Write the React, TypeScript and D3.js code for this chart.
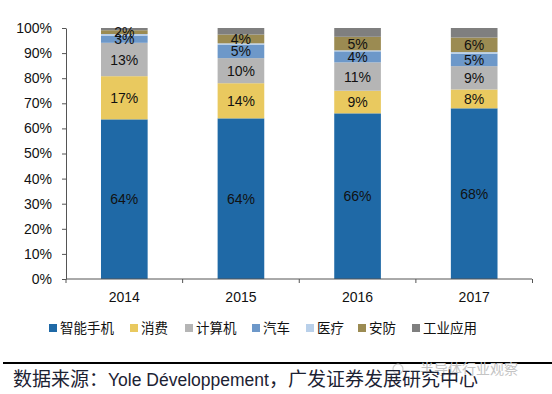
import React, { useEffect, useRef } from 'react';
import * as d3 from 'd3';

// years on the x axis
const years = ['2014', '2015', '2016', '2017'];

// series names (legend order, bottom to top in the stack)
const seriesNames = ['智能手机', '消费', '计算机', '汽车', '医疗', '安防', '工业应用'];

// share of each series per year, in %
const smartphone = [63.6, 64, 66, 68];
const consumer = [17.2, 14, 9, 7.5];
const computer = [13.3, 10, 11.3, 9.3];
const auto = [2.9, 5.4, 4.4, 5];
const medical = [0.6, 0.5, 0.4, 0.6];
const security = [1.5, 3.5, 5.4, 5.8];
const industrial = [0.9, 2.6, 3.5, 3.8];

// series that carry a value label on the bar
const labelled = ['智能手机', '消费', '计算机', '汽车', '安防'];

const yTicks = [0, 10, 20, 30, 40, 50, 60, 70, 80, 90, 100];

const colors = ['#1f69a6', '#e9c95f', '#b5b5b5', '#6d98c9', '#b9d0ea', '#9b8b52', '#7f7f7f'];

const App = () => {
  const ref = useRef<SVGSVGElement | null>(null);

  useEffect(() => {
    if (!ref.current) return;
    const svg = d3.select(ref.current);
    svg.selectAll('*').remove();

    const all = [smartphone, consumer, computer, auto, medical, security, industrial];
    const rows = years.map((y, i) => {
      const r: any = { year: y };
      seriesNames.forEach((s, j) => { r[s] = all[j][i]; });
      return r;
    });

    const stacked = d3.stack<any>().keys(seriesNames)(rows);

    const x = d3.scaleBand()
      .domain(years)
      .range([66, 532.5])
      .paddingInner(0.6)
      .paddingOuter(0.3);

    const y = d3.scaleLinear().domain([0, 100]).range([279, 28]);

    const font = 'Arial, "Liberation Sans", sans-serif';
    const cjk = '"Noto Sans CJK SC", sans-serif';

    // bars
    const layers = svg.append('g')
      .selectAll('g')
      .data(stacked)
      .enter().append('g')
      .attr('fill', (d, i) => colors[i]);

    layers.selectAll('rect')
      .data(d => d.map(p => ({ p, key: d.key })))
      .enter().append('rect')
      .attr('x', d => x(d.p.data.year) as number)
      .attr('y', d => y(d.p[1]))
      .attr('width', x.bandwidth())
      .attr('height', d => y(d.p[0]) - y(d.p[1]));

    // value labels
    stacked.filter(s => labelled.includes(s.key)).forEach(s => {
      svg.append('g')
        .selectAll('text')
        .data(s)
        .enter().append('text')
        .attr('x', d => (x(d.data.year) as number) + x.bandwidth() / 2)
        .attr('y', d => (y(d[0]) + y(d[1])) / 2)
        .attr('dy', '0.36em')
        .attr('text-anchor', 'middle')
        .attr('font-family', font)
        .attr('font-size', 14)
        .attr('fill', '#111')
        .text(d => `${Math.round(d[1] - d[0])}%`);
    });

    // y axis
    const yAxis = svg.append('g')
      .attr('transform', 'translate(66,0)')
      .call(d3.axisLeft(y).tickValues(yTicks).tickSize(4).tickSizeOuter(0).tickFormat(d => `${d}%`));
    yAxis.select('.domain').attr('stroke', '#555');
    yAxis.selectAll('.tick line').attr('stroke', '#555');
    yAxis.selectAll('.tick text')
      .attr('x', -14)
      .attr('font-family', font)
      .attr('font-size', 14)
      .attr('fill', '#111');

    // x axis
    const xAxis = svg.append('g')
      .attr('transform', 'translate(0,279)');
    xAxis.append('line')
      .attr('x1', 66).attr('x2', 532).attr('y1', 0).attr('y2', 0)
      .attr('stroke', '#555');
    const step = x.step();
    const edges = d3.range(years.length + 1).map(i => 66 + i * step);
    xAxis.selectAll('line.t')
      .data(edges)
      .enter().append('line')
      .attr('class', 't')
      .attr('x1', d => d).attr('x2', d => d)
      .attr('y1', 0).attr('y2', 4)
      .attr('stroke', '#555');
    xAxis.selectAll('text')
      .data(years)
      .enter().append('text')
      .attr('x', d => (x(d) as number) + x.bandwidth() / 2)
      .attr('y', 18)
      .attr('dy', '0.36em')
      .attr('text-anchor', 'middle')
      .attr('font-family', font)
      .attr('font-size', 14)
      .attr('fill', '#111')
      .text(d => d);

    // legend
    const legendX = [49, 130, 185, 252, 306, 358, 412];
    const legend = svg.append('g')
      .selectAll('g')
      .data(seriesNames)
      .enter().append('g')
      .attr('transform', (d, i) => `translate(${legendX[i]},328)`);
    legend.append('rect')
      .attr('x', 0).attr('y', -4)
      .attr('width', 8).attr('height', 8)
      .attr('fill', (d, i) => colors[i]);
    legend.append('text')
      .attr('x', 11)
      .attr('y', 0)
      .attr('dy', '0.36em')
      .attr('font-family', cjk)
      .attr('font-size', 13.5)
      .attr('fill', '#111')
      .text(d => d);

    // rule and source
    svg.append('line')
      .attr('x1', 3).attr('x2', 552)
      .attr('y1', 363).attr('y2', 363)
      .attr('stroke', '#000')
      .attr('stroke-width', 2);

    // watermark
    svg.append('circle')
      .attr('cx', 398).attr('cy', 369).attr('r', 5)
      .attr('fill', 'none')
      .attr('stroke', '#cfcfcf')
      .attr('stroke-width', 1.2);
    svg.append('text')
      .attr('x', 420)
      .attr('y', 374)
      .attr('font-family', cjk)
      .attr('font-size', 14)
      .attr('fill', '#c4c4c4')
      .text('半导体行业观察');

    const src = svg.append('text')
      .attr('x', 13)
      .attr('y', 386)
      .attr('fill', '#1c2233');
    src.append('tspan').attr('font-family', cjk).attr('font-size', 19).text('数据来源：');
    src.append('tspan').attr('font-family', font).attr('font-size', 17.5).text('Yole Développement');
    src.append('tspan').attr('font-family', cjk).attr('font-size', 19).text('，广发证券发展研究中心');
  }, []);

  return (
    <svg ref={ref} width={552} height={394}
      style={{ position: 'absolute', left: 0, top: 0, background: '#fff' }} />
  );
};

export default App;
